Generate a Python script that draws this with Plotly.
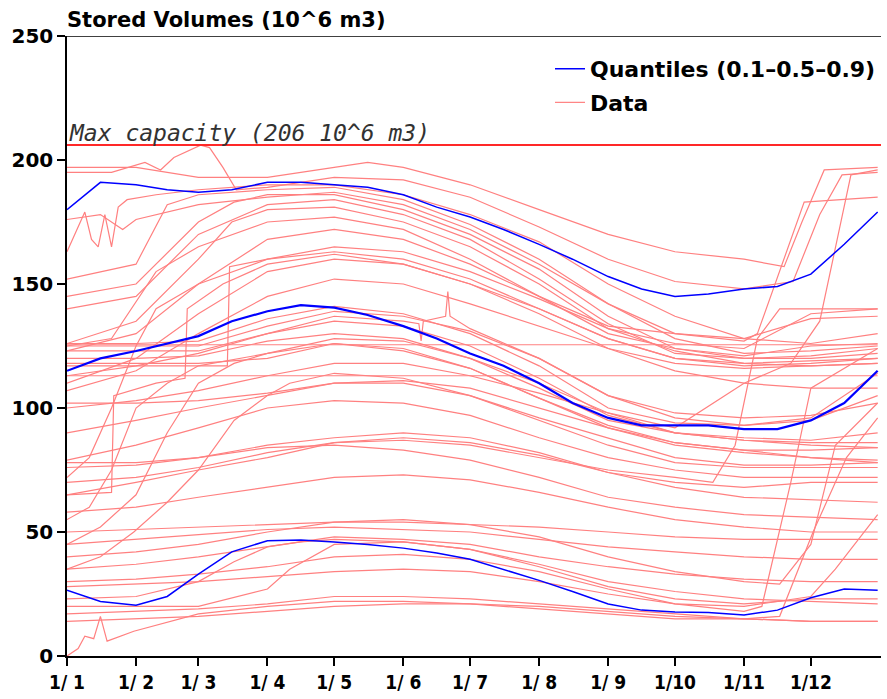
import plotly.graph_objects as go

# ---------------- data ----------------
MONTH_DAYS = [0, 31, 59, 90, 120, 151, 181, 212, 243, 273, 304, 334]
MONTH_LABELS = ["1/ 1", "1/ 2", "1/ 3", "1/ 4", "1/ 5", "1/ 6", "1/ 7", "1/ 8", "1/ 9", "1/10", "1/11", "1/12"]
M = [0, 31, 59, 90, 120, 151, 181, 212, 243, 273, 304, 334, 364]

Q_DAYS = [0, 15, 31, 45, 59, 74, 90, 105, 120, 135, 151, 166, 181, 196, 212, 227, 243, 258, 273, 288, 304, 319, 334, 349, 364]
Q90 = [180, 191, 190, 188, 187, 188, 191, 191, 190, 189, 186, 181, 177, 172, 166, 160, 153, 148, 145, 146, 148, 149, 154, 166, 179]
Q50 = [115, 120, 123, 126, 129, 135, 139, 141.5, 140.5, 137.5, 133, 128, 122, 117, 110, 102, 96, 93, 93, 93, 91.5, 91.5, 95, 102, 115]
Q10 = [26.5, 22, 20.5, 24, 33, 42, 46.5, 46.8, 46, 45, 43.5, 41.5, 39, 35, 30.5, 26, 21, 18.5, 17.7, 17.5, 16.5, 18.5, 23.5, 27, 26.5]

MAX_CAPACITY = 206

DATA_DAYS = [
    [0, 31, 59, 90, 120, 135, 151, 181, 212, 243, 273, 304, 322, 330, 340, 364],
    [0, 20, 35, 42, 48, 55, 60, 64, 70, 76, 90, 120, 151, 181, 212, 243, 273, 304, 326, 338, 348, 364],
    [0, 8, 11, 14, 17, 20, 23, 27, 40, 59, 90, 120, 151, 181, 212, 243, 273, 304, 334, 364],
    [0, 31, 45, 59, 90, 120, 151, 181, 212, 243, 273, 304, 334, 364],
    [0, 31, 59, 75, 90, 120, 151, 181, 212, 243, 273, 304, 334, 364],
    M,
    [0, 31, 59, 74, 90, 120, 151, 181, 212, 243, 273, 304, 334, 364],
    [0, 20, 40, 59, 90, 120, 151, 181, 212, 243, 273, 304, 334, 364],
    M,
    M,
    [0, 31, 59, 80, 90, 120, 151, 181, 212, 243, 273, 304, 334, 364],
    [0, 72, 73, 90, 120, 151, 181, 212, 243, 273, 304, 334, 364],
    [0, 15, 25, 31, 59, 90, 120, 151, 181, 212, 243, 273, 304, 310, 331, 364],
    M, M, M, M, M,
    [0, 31, 59, 90, 120, 151, 158, 159, 160, 170, 171, 172, 181, 212, 243, 273, 304, 334, 364],
    [0, 364],
    [0, 364],
    [0, 5, 8, 12, 15, 18, 30, 59, 90, 120, 151, 181, 212, 243, 273, 304, 320, 335, 350, 364],
    [0, 10, 20, 31, 45, 59, 90, 120, 151, 181, 212, 243, 273, 304, 334, 364],
    [0, 15, 31, 45, 59, 75, 90, 120, 151, 181, 212, 243, 273, 304, 334, 364],
    [0, 20, 21, 40, 53, 54, 70, 90, 120, 151, 181, 212, 243, 273, 304, 334, 364],
    [0, 15, 30, 45, 59, 75, 90, 100, 120, 151, 181, 212, 243, 273, 304, 334, 364],
    M, M, M, M, M, M, M, M, M,
    [0, 31, 59, 75, 90, 105, 120, 151, 181, 212, 243, 273, 304, 334, 364],
    [0, 31, 59, 90, 100, 120, 151, 181, 212, 243, 273, 304, 334, 364],
    M, M,
    [0, 31, 59, 90, 120, 151, 181, 212, 243, 273, 290, 300, 310, 320, 364],
    [0, 31, 59, 90, 120, 151, 181, 212, 243, 273, 304, 312, 325, 334, 364],
    [0, 31, 59, 90, 120, 151, 181, 212, 243, 273, 304, 320, 334, 345, 364],
    [0, 31, 59, 90, 120, 151, 181, 212, 243, 273, 304, 334, 345, 364],
    [0, 31, 59, 90, 120, 151, 181, 212, 243, 273, 304, 325, 338, 352, 364],
    M,
    [0, 10, 20, 31, 40, 59, 90, 120, 151, 181, 212, 243, 273, 304, 334, 364],
]

DATA_VALUES = [
    [197, 197, 193, 193, 197, 199, 197, 190, 180, 170, 163, 160, 157, 175, 196, 197],
    [195, 195, 199, 196, 201, 204, 206, 205, 197, 188, 189, 193, 192, 185, 173, 160, 151, 148, 151, 178, 194, 195],
    [163, 179, 168, 165, 178, 165, 181, 184, 186, 188, 190, 190, 186, 178, 167, 150, 137, 128, 126, 130],
    [152, 158, 182, 186, 188, 189, 184, 174, 160, 142, 128, 122, 123, 125],
    [145, 150, 175, 183, 186, 186, 180, 170, 156, 137, 124, 120, 120, 122],
    [140, 145, 170, 182, 184, 178, 168, 152, 134, 122, 120, 121, 124],
    [126, 135, 160, 175, 180, 181, 175, 165, 150, 132, 126, 124, 138, 140],
    [125, 128, 155, 165, 175, 177, 172, 160, 145, 130, 124, 121, 125, 126],
    [123, 130, 150, 168, 172, 168, 158, 145, 133, 130, 128, 136, 137],
    [110, 120, 138, 155, 160, 158, 150, 140, 128, 120, 118, 119, 120],
    [107, 115, 130, 140, 145, 152, 150, 142, 133, 124, 118, 116, 117, 118],
    [117, 117, 157, 160, 163, 160, 152, 140, 128, 120, 117, 118, 120],
    [176, 178, 172, 176, 182, 185, 187, 182, 172, 158, 142, 130, 127, 130, 183, 185],
    [126, 126, 127, 136, 141, 138, 130, 117, 100, 94, 93, 96, 114],
    [125, 125, 125, 133, 139, 137, 131, 120, 105, 98, 96, 97, 102],
    [123, 123, 123, 130, 135, 133, 125, 112, 97, 90, 87, 86, 86],
    [120, 120, 121, 127, 130, 128, 120, 108, 95, 90, 87, 85, 84],
    [118, 118, 118, 120, 126, 123, 116, 104, 93, 86, 83, 80, 78],
    [113, 117, 122, 130, 137, 135, 134, 127, 135, 137, 147, 137, 132, 120, 105, 96, 93, 95, 105],
    [125.5, 125.5],
    [113, 113],
    [0, 3, 8, 7, 16, 6, 10, 17, 20, 22, 22, 21, 19, 17, 15, 15, 16, 50, 80, 96],
    [55, 60, 75, 100, 110, 117, 122, 128, 127, 120, 110, 98, 90, 88, 87, 90],
    [45, 52, 65, 90, 110, 118, 122, 126, 124, 116, 104, 92, 85, 82, 80, 79],
    [65, 66, 105, 110, 112, 140, 150, 158, 162, 158, 150, 138, 124, 115, 110, 108, 108],
    [35, 40, 50, 62, 75, 95, 105, 110, 114, 112, 105, 95, 85, 78, 76, 76, 76],
    [90, 95, 100, 105, 110, 110, 105, 96, 88, 80, 77, 77, 78],
    [79, 85, 92, 100, 103, 102, 97, 88, 80, 75, 72, 72, 72],
    [78, 78, 80, 85, 88, 90, 88, 82, 74, 68, 64, 63, 62],
    [76, 77, 80, 84, 85, 83, 79, 72, 64, 60, 57, 56, 55],
    [65, 70, 75, 80, 86, 88, 86, 81, 74, 70, 68, 70, 70],
    [58, 60, 64, 68, 72, 73, 71, 66, 60, 55, 52, 50, 50],
    [50, 51, 52, 53, 54, 54, 53, 52, 50, 48, 47, 47, 47],
    [45, 47, 49, 51, 52, 51, 50, 47, 44, 42, 40, 39, 39],
    [35, 37, 40, 44, 48, 47, 45, 40, 36, 33, 31, 30, 30],
    [23, 24, 30, 38, 44, 46, 47, 46, 43, 37, 30, 26, 23, 22, 21],
    [20, 20, 20, 27, 35, 45, 46, 43, 36, 28, 23, 21, 23, 23],
    [17, 18, 19, 21, 24, 24, 23, 21, 19, 17, 15, 14, 14],
    [14, 15, 16, 18, 20, 21, 21, 20, 18, 16, 15, 14, 14],
    [70, 72, 76, 82, 86, 87, 85, 80, 75, 72, 70, 85, 128, 140, 140],
    [30, 31, 33, 36, 40, 41, 39, 34, 27, 21, 18, 20, 70, 108, 124],
    [40, 42, 45, 50, 54, 55, 53, 48, 40, 34, 30, 29, 45, 85, 102],
    [28, 29, 30, 32, 34, 35, 34, 30, 25, 21, 20, 24, 35, 57],
    [100, 103, 107, 113, 118, 118, 113, 106, 98, 92, 110, 118, 135, 194, 196],
    [102, 102, 103, 106, 110, 111, 108, 100, 92, 86, 83, 83, 84],
    [72, 80, 100, 125, 140, 150, 160, 165, 163, 155, 144, 132, 123, 118, 117, 118],
]

# ---------------- figure ----------------
DATA_COLOR = "rgb(255,128,128)"
Q_COLOR = "rgb(0,0,255)"
CAP_COLOR = "rgb(255,40,40)"
FONT = "DejaVu Sans"
TICKX_FONT = "DejaVu Sans Condensed, Liberation Sans Narrow, DejaVu Sans"

fig = go.Figure()

for i, (d, v) in enumerate(zip(DATA_DAYS, DATA_VALUES)):
    fig.add_trace(go.Scatter(
        x=d, y=v, mode="lines",
        line=dict(color=DATA_COLOR, width=1.2),
        name="Data", legendgroup="data", legendrank=2,
        showlegend=(i == 0), hoverinfo="skip",
    ))

for j, (q, w) in enumerate([(Q90, 1.5), (Q50, 2.2), (Q10, 1.5)]):
    fig.add_trace(go.Scatter(
        x=Q_DAYS, y=q, mode="lines",
        line=dict(color=Q_COLOR, width=w),
        name="Quantiles (0.1\u20130.5\u20130.9)", legendgroup="q", legendrank=1,
        showlegend=(j == 0), hoverinfo="skip",
    ))

fig.add_trace(go.Scatter(
    x=[0, 365.5], y=[MAX_CAPACITY, MAX_CAPACITY], mode="lines",
    line=dict(color=CAP_COLOR, width=2), showlegend=False, hoverinfo="skip",
))

fig.add_annotation(
    x=0, y=MAX_CAPACITY, xref="x", yref="y", xanchor="left", yanchor="bottom",
    text="<i>Max capacity (%d 10^6 m3)</i>" % MAX_CAPACITY, showarrow=False,
    font=dict(family="DejaVu Sans Mono", size=23, color="rgb(50,50,50)"), xshift=0, yshift=-3,
)

fig.add_shape(type="line", xref="paper", x0=0, x1=1, yref="y", y0=250, y1=250,
              line=dict(color="black", width=1.5))

fig.update_layout(
    width=887, height=699,
    margin=dict(l=67, r=6, t=36, b=41),
    plot_bgcolor="white", paper_bgcolor="white",
    title=dict(text="<b>Stored Volumes (10^6 m3)</b>", x=67 / 887, xanchor="left",
               xref="container", y=1 - 20 / 699, yanchor="middle", yref="container",
               font=dict(family=FONT, size=21, color="black")),
    legend=dict(x=1, xanchor="right", y=1 - 12 / 622, yanchor="top",
                bgcolor="rgba(0,0,0,0)", tracegroupgap=2,
                font=dict(family=FONT, size=22, color="black", weight="bold")),
    showlegend=True,
)

fig.update_xaxes(
    range=[0, 365.5], tickvals=MONTH_DAYS, ticktext=MONTH_LABELS,
    showline=True, linecolor="black", linewidth=1.5,
    ticks="outside", ticklen=8, tickwidth=1.5, tickcolor="black",
    showgrid=False, zeroline=False,
    tickfont=dict(family=TICKX_FONT, size=19, color="black", weight="bold"),
)
fig.update_yaxes(
    range=[0, 250], tickvals=[0, 50, 100, 150, 200, 250],
    showline=True, linecolor="black", linewidth=1.5,
    ticks="outside", ticklen=8, tickwidth=1.5, tickcolor="black",
    showgrid=False, zeroline=False,
    tickfont=dict(family=FONT, size=20, color="black", weight="bold"),
)

fig.write_html("out.html")
